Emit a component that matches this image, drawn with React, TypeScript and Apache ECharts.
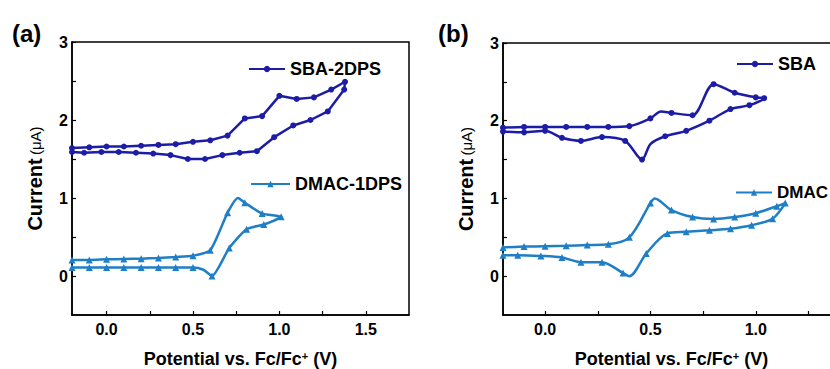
import React, { useEffect, useRef } from "react";
import * as echarts from "echarts";

// ---- Panel (a) : SBA-2DPS (forward then reverse) ----
const aSbaV = [-0.2, -0.1, 0.0, 0.1, 0.2, 0.3, 0.4, 0.5, 0.6, 0.7, 0.8, 0.9, 1.0, 1.1, 1.2, 1.3, 1.38,
  1.375, 1.28, 1.18, 1.08, 0.97, 0.87, 0.77, 0.67, 0.57, 0.47, 0.37, 0.27, 0.17, 0.07, -0.03, -0.13, -0.2];
const aSbaI = [1.64, 1.65, 1.66, 1.66, 1.67, 1.68, 1.69, 1.72, 1.74, 1.8, 2.02, 2.05, 2.31, 2.27, 2.29, 2.39, 2.49,
  2.39, 2.11, 2.0, 1.93, 1.78, 1.6, 1.58, 1.55, 1.5, 1.5, 1.55, 1.57, 1.58, 1.59, 1.59, 1.58, 1.59];
const aSbaNoMark: number[] = [];

// ---- Panel (a) : DMAC-1DPS ----
const aDmacV = [-0.2, -0.1, 0.0, 0.1, 0.2, 0.3, 0.4, 0.5, 0.6, 0.7, 0.76, 0.8, 0.9, 1.01,
  0.91, 0.81, 0.71, 0.61, 0.56, 0.5, 0.4, 0.3, 0.2, 0.1, 0.0, -0.1, -0.2];
const aDmacI = [0.205, 0.205, 0.214, 0.218, 0.222, 0.231, 0.244, 0.26, 0.33, 0.81, 1.0, 0.94, 0.8, 0.76,
  0.66, 0.6, 0.36, 0.0, 0.08, 0.11, 0.11, 0.11, 0.11, 0.11, 0.11, 0.11, 0.11];
const aDmacNoMark = [10, 18];

// ---- Panel (b) : SBA ----
const bSbaV = [-0.2, -0.1, 0.0, 0.1, 0.2, 0.3, 0.4, 0.5, 0.55, 0.6, 0.7, 0.8, 0.9, 1.0, 1.04,
  0.97, 0.88, 0.78, 0.67, 0.57, 0.5, 0.46, 0.38, 0.27, 0.17, 0.08, 0.0, -0.1, -0.2];
const bSbaI = [1.91, 1.92, 1.92, 1.92, 1.92, 1.92, 1.93, 2.03, 2.12, 2.1, 2.07, 2.47, 2.36, 2.3, 2.29,
  2.2, 2.15, 2.0, 1.87, 1.8, 1.7, 1.5, 1.74, 1.79, 1.74, 1.78, 1.87, 1.85, 1.86];
const bSbaNoMark = [8, 20];

// ---- Panel (b) : DMAC ----
const bDmacV = [-0.2, -0.1, 0.0, 0.1, 0.2, 0.3, 0.4, 0.5, 0.52, 0.6, 0.7, 0.8, 0.9, 1.0, 1.1, 1.14,
  1.08, 0.98, 0.88, 0.78, 0.67, 0.58, 0.48, 0.4, 0.37, 0.27, 0.17, 0.08, -0.02, -0.13, -0.2];
const bDmacI = [0.37, 0.38, 0.385, 0.39, 0.4, 0.41, 0.5, 0.94, 1.0, 0.85, 0.76, 0.735, 0.76, 0.81, 0.9, 0.94,
  0.74, 0.655, 0.61, 0.59, 0.57, 0.55, 0.29, 0.0, 0.04, 0.18, 0.18, 0.24, 0.26, 0.27, 0.27];
const bDmacNoMark = [8, 23];

const yLabels = [0, 1, 2, 3];
const yTicks = [0, 0.5, 1, 1.5, 2, 2.5, 3];
const aXLabels = [0, 0.5, 1.0, 1.5];
const aXTicks = [0, 0.25, 0.5, 0.75, 1.0, 1.25, 1.5];
const bXLabels = [0, 0.5, 1.0];
const bXTicks = [0, 0.25, 0.5, 0.75, 1.0, 1.25];

const DARK = "#1c1ca6";
const LIGHT = "#1f7fc6";
const FONT = 'Arial, "Liberation Sans", sans-serif';

function build(V: number[], I: number[], noMark: number[]) {
  return V.map((v, i) =>
    noMark.includes(i) ? { value: [v, I[i]], symbol: "none" } : { value: [v, I[i]] }
  );
}

function xAxisCfg(gridIndex: number, min: number, max: number, labels: number[], ticks: number[]) {
  return {
    type: "value",
    gridIndex,
    min,
    max,
    name: "Potential vs. Fc/Fc{sup|+} (V)",
    nameLocation: "middle",
    nameGap: 35,
    nameTextStyle: {
      fontFamily: FONT,
      fontSize: 18,
      fontWeight: "bold",
      color: "#000",
      lineHeight: 18,
      rich: {
        sup: { fontFamily: FONT, fontSize: 11, fontWeight: "bold", color: "#000", verticalAlign: "top", lineHeight: 11, padding: [0, 0, 7, 0] },
      },
    },
    axisLine: { show: true, onZero: false, lineStyle: { color: "#000", width: 1.5 } },
    axisTick: { show: true, inside: true, length: 4, customValues: ticks, lineStyle: { color: "#000", width: 1.2 } },
    axisLabel: {
      customValues: labels,
      margin: 6,
      fontFamily: FONT,
      fontSize: 16,
      fontWeight: "bold",
      color: "#000",
      formatter: (v: number) => v.toFixed(1),
    },
    splitLine: { show: false },
  };
}

function yAxisCfg(gridIndex: number) {
  return {
    type: "value",
    gridIndex,
    min: -0.5,
    max: 3,
    name: "{t|Current} {u|(μA)}",
    nameLocation: "middle",
    nameGap: 27,
    nameTextStyle: {
      color: "#000",
      rich: {
        t: { fontFamily: FONT, fontSize: 20, fontWeight: "bold", color: "#000" },
        u: { fontFamily: FONT, fontSize: 15, fontWeight: "normal", color: "#000" },
      },
    },
    axisLine: { show: true, onZero: false, lineStyle: { color: "#000", width: 1.5 } },
    axisTick: { show: true, inside: true, length: 4, customValues: yTicks, lineStyle: { color: "#000", width: 1.2 } },
    axisLabel: {
      customValues: yLabels,
      margin: 4,
      fontFamily: FONT,
      fontSize: 16,
      fontWeight: "bold",
      color: "#000",
      formatter: (v: number) => String(v),
    },
    splitLine: { show: false },
  };
}

function seriesCfg(name: string, idx: number, data: any[], color: string, symbol: string, size: number, smooth: number | boolean) {
  return {
    type: "line",
    name,
    xAxisIndex: idx,
    yAxisIndex: idx,
    data,
    color,
    symbol,
    symbolSize: size,
    smooth,
    lineStyle: { color, width: 2.5 },
    itemStyle: { color },
    clip: true,
    z: 3,
  };
}

function legendCfg(name: string, left: number, top: number, itemWidth: number, fontSize: number) {
  return {
    data: [name],
    left,
    top,
    orient: "horizontal",
    padding: 0,
    itemWidth,
    itemHeight: 8,
    itemGap: 0,
    selectedMode: false,
    textStyle: { fontFamily: FONT, fontSize, fontWeight: "bold", color: "#000", padding: [0, 0, 0, 0] },
  };
}

export default function App() {
  const ref = useRef<HTMLDivElement>(null);
  useEffect(() => {
    if (!ref.current) return;
    const chart = echarts.init(ref.current, undefined, { renderer: "svg" });
    const option: any = {
      animation: false,
      backgroundColor: "#fff",
      grid: [
        { left: 72, top: 42, width: 337, height: 273, outerBoundsMode: "none", containLabel: false, show: true, borderColor: "#000", borderWidth: 1.5, backgroundColor: "transparent" },
        { left: 503, top: 43, width: 337, height: 272, outerBoundsMode: "none", containLabel: false, show: true, borderColor: "#000", borderWidth: 1.5, backgroundColor: "transparent" },
      ],
      xAxis: [xAxisCfg(0, -0.2, 1.75, aXLabels, aXTicks), xAxisCfg(1, -0.2, 1.4, bXLabels, bXTicks)],
      yAxis: [yAxisCfg(0), yAxisCfg(1)],
      legend: [
        legendCfg("SBA-2DPS", 248, 60, 36, 18),
        legendCfg("DMAC-1DPS", 250, 175, 39, 18),
        legendCfg("SBA", 736, 55, 36, 18),
        legendCfg("DMAC", 735, 184, 36, 17),
      ],
      series: [
        seriesCfg("SBA-2DPS", 0, build(aSbaV, aSbaI, aSbaNoMark), DARK, "circle", 6, false),
        seriesCfg("DMAC-1DPS", 0, build(aDmacV, aDmacI, aDmacNoMark), LIGHT, "triangle", 7, 0.2),
        seriesCfg("SBA", 1, build(bSbaV, bSbaI, bSbaNoMark), DARK, "circle", 6, 0.3),
        seriesCfg("DMAC", 1, build(bDmacV, bDmacI, bDmacNoMark), LIGHT, "triangle", 7, 0.3),
      ],
      graphic: [
        { type: "text", left: 12, top: 21, style: { text: "(a)", fontFamily: FONT, fontSize: 24, fontWeight: "bold", fill: "#000" } },
        { type: "text", left: 438, top: 21, style: { text: "(b)", fontFamily: FONT, fontSize: 24, fontWeight: "bold", fill: "#000" } },
      ],
    };
    chart.setOption(option);
    return () => chart.dispose();
  }, []);
  return (
    <div
      ref={ref}
      style={{ position: "fixed", left: 0, top: 0, width: 830, height: 369, background: "#fff" }}
    />
  );
}
